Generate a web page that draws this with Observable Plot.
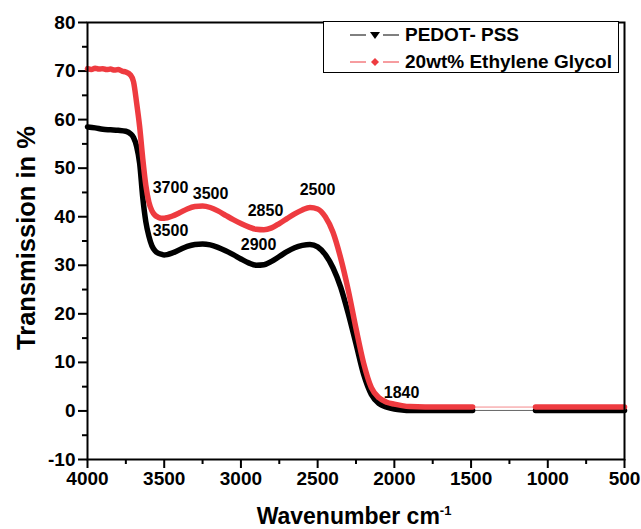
<!DOCTYPE html>
<html>
<head>
<meta charset="utf-8">
<script src="https://cdn.jsdelivr.net/npm/d3@7"></script>
<script src="https://cdn.jsdelivr.net/npm/@observablehq/plot@0.6"></script>
<style>
  body { margin: 0; background: #fff; font-family: "Liberation Sans", Arial, sans-serif; }
  #wrap { position: relative; width: 641px; height: 529px; }
  #legend { position: absolute; left: 323px; top: 21px; width: 296px; height: 52px; box-sizing: border-box;
            border: 1.5px solid #000; background: #fff; }
  .row { position: absolute; left: 0; height: 24px; display: flex; align-items: center; }
  .row svg { margin-left: 26px; }
  .row span { margin-left: 5px; font-weight: bold; font-size: 19px; color: #000; white-space: nowrap; }
</style>
</head>
<body>
<div id="wrap"></div>
<script>
// ---- data ----
const seriesNames = ["PEDOT- PSS", "20wt% Ethylene Glycol"];
const seriesColors = ["#000000", "#ee3b40"];

const wnBlack = [4000, 3950, 3900, 3850, 3800, 3750, 3720, 3700, 3680, 3660, 3640, 3620, 3600, 3580, 3560, 3540, 3520, 3500, 3480, 3450, 3400, 3350, 3300, 3250, 3200, 3150, 3100, 3050, 3000, 2950, 2900, 2850, 2800, 2750, 2700, 2650, 2600, 2550, 2500, 2450, 2400, 2350, 2300, 2250, 2200, 2150, 2100, 2050, 2000, 1950, 1900, 1800, 1700, 1600, 1490, 1080, 1000, 900, 800, 700, 600, 500];
const tBlack  = [58.5, 58.3, 58.0, 57.9, 57.8, 57.6, 57.1, 56.3, 54.5, 51.0, 44.0, 39.0, 36.0, 34.0, 33.0, 32.5, 32.3, 32.1, 32.2, 32.5, 33.2, 33.9, 34.3, 34.4, 34.2, 33.7, 33.0, 32.2, 31.3, 30.5, 30.0, 30.1, 30.8, 31.8, 32.8, 33.6, 34.1, 34.3, 33.8, 32.2, 29.5, 25.5, 20.0, 13.8, 7.5, 3.4, 1.5, 0.8, 0.4, 0.2, 0.1, 0.1, 0.1, 0.1, 0.1, 0.1, 0.1, 0.1, 0.1, 0.1, 0.1, 0.1];

const wnRed = [4000, 3975, 3950, 3925, 3900, 3875, 3850, 3825, 3800, 3775, 3750, 3720, 3700, 3680, 3660, 3640, 3620, 3600, 3580, 3560, 3540, 3520, 3500, 3480, 3450, 3400, 3350, 3300, 3250, 3200, 3150, 3100, 3050, 3000, 2950, 2900, 2850, 2800, 2750, 2700, 2650, 2600, 2550, 2500, 2450, 2400, 2350, 2300, 2250, 2200, 2150, 2100, 2050, 2000, 1950, 1900, 1800, 1700, 1600, 1490, 1080, 1000, 900, 800, 700, 600, 500];
const tRed  = [70.5, 70.3, 70.6, 70.4, 70.5, 70.3, 70.4, 70.2, 70.3, 70.0, 69.8, 69.2, 67.8, 63.5, 58.5, 52.0, 46.5, 43.0, 41.2, 40.3, 39.9, 39.7, 39.7, 39.8, 40.1, 40.8, 41.6, 42.1, 42.2, 41.9, 41.2, 40.3, 39.4, 38.6, 37.9, 37.4, 37.3, 37.7, 38.6, 39.6, 40.6, 41.4, 41.9, 41.6, 40.0, 36.8, 31.5, 24.8, 17.0, 9.8, 4.8, 2.7, 1.8, 1.4, 1.1, 0.9, 0.8, 0.8, 0.8, 0.8, 0.8, 0.8, 0.8, 0.8, 0.8, 0.8, 0.8];

// thin connection (no data) between these wavenumbers
const gapStart = 1490, gapEnd = 1080;

const annotLabels = ["3700", "3500", "3500", "2850", "2900", "2500", "1840"];
const annotX      = [3459, 3198, 3459, 2840, 2885, 2501, 1953];
const annotY      = [46.0, 44.8, 37.1, 41.3, 34.1, 45.6, 3.8];

const xMajor = [4000, 3500, 3000, 2500, 2000, 1500, 1000, 500];
const xMinor = [3750, 3250, 2750, 2250, 1750, 1250, 750];
const yMajor = [-10, 0, 10, 20, 30, 40, 50, 60, 70, 80];
const yMinor = [-5, 5, 15, 25, 35, 45, 55, 65, 75];

// ---- build tables ----
function rows(wn, t, s) { return wn.map((w, i) => ({wn: w, t: t[i], series: s})); }
const all = [...rows(wnBlack, tBlack, seriesNames[0]), ...rows(wnRed, tRed, seriesNames[1])];
const thick = all.filter(d => d.wn >= gapStart || d.wn <= gapEnd)
                 .map(d => ({...d, seg: d.series + (d.wn >= gapStart ? "-a" : "-b")}));
const thin = all.filter(d => d.wn === gapStart || d.wn === gapEnd);
const annots = annotLabels.map((l, i) => ({label: l, x: annotX[i], y: annotY[i]}));

const color = {domain: seriesNames, range: seriesColors};

const chart = Plot.plot({
  width: 641,
  height: 529,
  marginLeft: 87,
  marginRight: 17,
  marginTop: 22,
  marginBottom: 70,
  style: {fontFamily: "'Liberation Sans', Arial, sans-serif", fontWeight: "bold", fontSize: "19px", color: "#000", background: "#fff"},
  x: {domain: [4000, 500]},
  y: {domain: [-10, 80]},
  color,
  marks: [
    Plot.axisX(xMajor, {tickSize: 9, tickPadding: 3, strokeWidth: 2, tickFormat: d => String(d), label: null}),
    Plot.axisX(xMinor, {tickSize: 5, strokeWidth: 2, tickFormat: () => "", label: null}),
    Plot.axisY(yMajor, {tickSize: 9, tickPadding: 3, strokeWidth: 2, tickFormat: d => String(d), label: null}),
    Plot.axisY(yMinor, {tickSize: 5, strokeWidth: 2, tickFormat: () => "", label: null}),
    Plot.line(thin, {x: "wn", y: "t", z: "series", stroke: "series", strokeWidth: 1, strokeOpacity: 0.6}),
    Plot.line(thick, {x: "wn", y: "t", z: "seg", stroke: "series", strokeWidth: 5.5, curve: "monotone-x"}),
    Plot.text(annots, {x: "x", y: "y", text: "label", fontSize: 16, fontWeight: "bold", fill: "#000"}),
    Plot.text(["Transmission in %"], {frameAnchor: "left", textAnchor: "middle", dx: -61, dy: -3, rotate: -90, fontSize: 25.5, fontWeight: "bold", fill: "#000"}),
    Plot.text(["Wavenumber cm"], {frameAnchor: "bottom", dy: 64, dx: -2, fontSize: 23, fontWeight: "bold", fill: "#000"}),
    Plot.frame({stroke: "#000", strokeWidth: 2})
  ]
});

// superscript on the x-axis title
d3.select(chart).selectAll("text")
  .filter(function() { return this.textContent === "Wavenumber cm"; })
  .append("tspan").attr("dy", "-0.65em").attr("font-size", "13px").text("-1");

const wrap = document.getElementById("wrap");
wrap.appendChild(chart);

// legend
const legend = document.createElement("div");
legend.id = "legend";
const markers = [
  '<path d="M20,-3 L30,-3 L25,4 Z" fill="#000"/>',
  '<path d="M25,-4 L29,0 L25,4 L21,0 Z" fill="#ee3b40"/>'
];
seriesNames.forEach((name, i) => {
  const row = document.createElement("div");
  row.className = "row";
  row.style.top = (i === 0 ? 1 : 28) + "px";
  row.innerHTML =
    `<svg width="50" height="12" viewBox="0 -6 50 12">
       <line x1="0" x2="16" y1="0" y2="0" stroke="${seriesColors[i]}" stroke-width="1"/>
       ${markers[i]}
       <line x1="33" x2="49" y1="0" y2="0" stroke="${seriesColors[i]}" stroke-width="1"/>
     </svg><span>${name}</span>`;
  legend.appendChild(row);
});
wrap.appendChild(legend);
</script>
</body>
</html>
